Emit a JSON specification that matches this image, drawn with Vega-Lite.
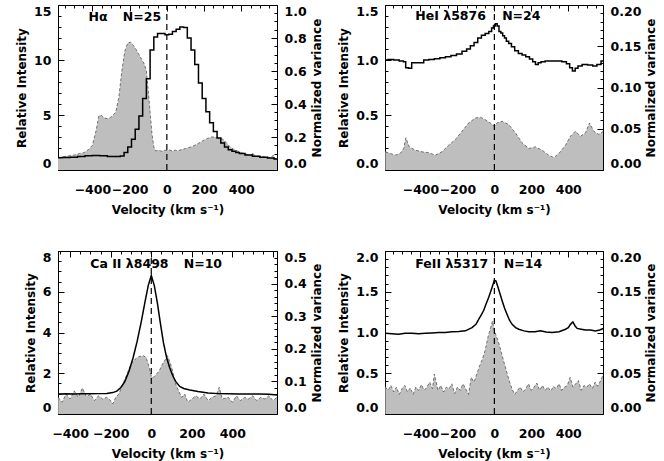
{
  "$schema": "https://vega.github.io/schema/vega-lite/v6.json",
  "padding": {"left": 15, "top": 3, "right": 5, "bottom": 5},
  "columns": 2,
  "spacing": {"row": 33, "column": 14},
  "datasets": {
    "ha_line": [{"v":-585,"y":1.12},{"v":-540,"y":1.13},{"v":-500,"y":1.15},{"v":-460,"y":1.22},{"v":-420,"y":1.3},{"v":-380,"y":1.32},{"v":-340,"y":1.3},{"v":-300,"y":1.23},{"v":-260,"y":1.22},{"v":-240,"y":1.28},{"v":-220,"y":1.6},{"v":-200,"y":2.1},{"v":-180,"y":2.8},{"v":-160,"y":3.7},{"v":-140,"y":4.9},{"v":-120,"y":6.5},{"v":-100,"y":8.3},{"v":-80,"y":10.9},{"v":-60,"y":12.1},{"v":-40,"y":12.4},{"v":-20,"y":12.4},{"v":0,"y":12.3},{"v":20,"y":12.35},{"v":40,"y":12.6},{"v":60,"y":12.8},{"v":80,"y":13.0},{"v":100,"y":12.95},{"v":120,"y":12.0},{"v":140,"y":10.9},{"v":160,"y":9.6},{"v":180,"y":7.9},{"v":200,"y":6.5},{"v":220,"y":5.3},{"v":240,"y":4.3},{"v":260,"y":3.5},{"v":280,"y":2.9},{"v":300,"y":2.45},{"v":320,"y":2.08},{"v":340,"y":1.85},{"v":360,"y":1.7},{"v":380,"y":1.6},{"v":400,"y":1.5},{"v":440,"y":1.36},{"v":480,"y":1.25},{"v":520,"y":1.17},{"v":560,"y":1.08},{"v":592,"y":1.0}],
    "ha_var": [{"v":-585,"y":0.075},{"v":-560,"y":0.08},{"v":-530,"y":0.085},{"v":-500,"y":0.09},{"v":-470,"y":0.1},{"v":-445,"y":0.105},{"v":-420,"y":0.125},{"v":-400,"y":0.15},{"v":-380,"y":0.24},{"v":-365,"y":0.33},{"v":-350,"y":0.33},{"v":-335,"y":0.315},{"v":-315,"y":0.31},{"v":-295,"y":0.325},{"v":-275,"y":0.35},{"v":-258,"y":0.44},{"v":-242,"y":0.6},{"v":-226,"y":0.72},{"v":-210,"y":0.77},{"v":-195,"y":0.775},{"v":-180,"y":0.755},{"v":-165,"y":0.73},{"v":-150,"y":0.7},{"v":-135,"y":0.67},{"v":-120,"y":0.64},{"v":-110,"y":0.6},{"v":-100,"y":0.48},{"v":-90,"y":0.35},{"v":-80,"y":0.22},{"v":-70,"y":0.14},{"v":-60,"y":0.115},{"v":-45,"y":0.12},{"v":-30,"y":0.114},{"v":-15,"y":0.12},{"v":0,"y":0.118},{"v":15,"y":0.121},{"v":30,"y":0.115},{"v":45,"y":0.12},{"v":60,"y":0.117},{"v":80,"y":0.124},{"v":100,"y":0.13},{"v":130,"y":0.14},{"v":160,"y":0.155},{"v":190,"y":0.175},{"v":215,"y":0.19},{"v":240,"y":0.2},{"v":260,"y":0.2},{"v":280,"y":0.192},{"v":300,"y":0.188},{"v":320,"y":0.165},{"v":340,"y":0.14},{"v":360,"y":0.125},{"v":380,"y":0.115},{"v":400,"y":0.105},{"v":430,"y":0.095},{"v":455,"y":0.09},{"v":462,"y":0.105},{"v":470,"y":0.088},{"v":500,"y":0.082},{"v":530,"y":0.08},{"v":560,"y":0.075},{"v":572,"y":0.09},{"v":580,"y":0.072},{"v":592,"y":0.065}],
    "ha_t1": [{"v":-421,"y":13.9,"t":"Hα"}],
    "ha_t2": [{"v":-237,"y":0.927,"t":"N=25"}],
    "ha_rule": [{"v":0,"y":0,"y2":15}],
    "he_line": [{"v":-590,"y":1.0},{"v":-560,"y":1.005},{"v":-530,"y":1.0},{"v":-500,"y":0.99},{"v":-485,"y":0.985},{"v":-475,"y":0.93},{"v":-455,"y":0.925},{"v":-440,"y":0.975},{"v":-420,"y":0.975},{"v":-395,"y":0.975},{"v":-370,"y":1.0},{"v":-340,"y":1.005},{"v":-310,"y":1.012},{"v":-280,"y":1.02},{"v":-250,"y":1.03},{"v":-220,"y":1.04},{"v":-190,"y":1.055},{"v":-160,"y":1.08},{"v":-140,"y":1.1},{"v":-120,"y":1.13},{"v":-100,"y":1.16},{"v":-80,"y":1.2},{"v":-60,"y":1.225},{"v":-40,"y":1.24},{"v":-20,"y":1.26},{"v":-10,"y":1.29},{"v":0,"y":1.31},{"v":10,"y":1.33},{"v":20,"y":1.31},{"v":30,"y":1.26},{"v":40,"y":1.245},{"v":50,"y":1.22},{"v":60,"y":1.2},{"v":70,"y":1.17},{"v":85,"y":1.15},{"v":100,"y":1.12},{"v":120,"y":1.085},{"v":140,"y":1.06},{"v":160,"y":1.045},{"v":180,"y":1.03},{"v":200,"y":1.01},{"v":215,"y":0.985},{"v":230,"y":0.96},{"v":245,"y":0.975},{"v":260,"y":0.985},{"v":290,"y":0.99},{"v":320,"y":0.99},{"v":350,"y":0.99},{"v":380,"y":0.985},{"v":400,"y":0.965},{"v":415,"y":0.93},{"v":430,"y":0.9},{"v":445,"y":0.925},{"v":460,"y":0.945},{"v":490,"y":0.96},{"v":520,"y":0.955},{"v":545,"y":0.945},{"v":565,"y":0.96},{"v":590,"y":0.99}],
    "he_var": [{"v":-590,"y":0.022},{"v":-564,"y":0.02},{"v":-537,"y":0.018},{"v":-510,"y":0.02},{"v":-491,"y":0.026},{"v":-479,"y":0.039},{"v":-461,"y":0.028},{"v":-428,"y":0.024},{"v":-392,"y":0.022},{"v":-356,"y":0.021},{"v":-320,"y":0.018},{"v":-284,"y":0.022},{"v":-248,"y":0.03},{"v":-211,"y":0.037},{"v":-175,"y":0.047},{"v":-139,"y":0.057},{"v":-103,"y":0.063},{"v":-76,"y":0.064},{"v":-49,"y":0.061},{"v":-22,"y":0.057},{"v":0,"y":0.053},{"v":14,"y":0.057},{"v":42,"y":0.059},{"v":78,"y":0.055},{"v":114,"y":0.045},{"v":150,"y":0.033},{"v":186,"y":0.026},{"v":222,"y":0.028},{"v":258,"y":0.024},{"v":294,"y":0.018},{"v":322,"y":0.015},{"v":349,"y":0.02},{"v":385,"y":0.03},{"v":412,"y":0.041},{"v":439,"y":0.047},{"v":466,"y":0.041},{"v":493,"y":0.045},{"v":515,"y":0.057},{"v":538,"y":0.047},{"v":565,"y":0.043},{"v":590,"y":0.047}],
    "he_t1": [{"v":-428,"y":1.397,"t":"HeI λ5876"}],
    "he_t2": [{"v":42,"y":0.1863,"t":"N=24"}],
    "he_rule": [{"v":0,"y":0,"y2":1.5}],
    "ca_line": [{"v":-459,"y":0.98},{"v":-420,"y":0.99},{"v":-380,"y":0.98},{"v":-340,"y":0.99},{"v":-300,"y":0.99},{"v":-260,"y":1.0},{"v":-220,"y":1.01},{"v":-190,"y":1.05},{"v":-170,"y":1.12},{"v":-150,"y":1.3},{"v":-130,"y":1.6},{"v":-110,"y":2.1},{"v":-90,"y":2.75},{"v":-70,"y":3.55},{"v":-50,"y":4.5},{"v":-30,"y":5.55},{"v":-15,"y":6.3},{"v":0,"y":6.8},{"v":15,"y":6.3},{"v":30,"y":5.45},{"v":45,"y":4.45},{"v":60,"y":3.5},{"v":75,"y":2.8},{"v":90,"y":2.3},{"v":105,"y":1.9},{"v":120,"y":1.6},{"v":140,"y":1.35},{"v":160,"y":1.25},{"v":190,"y":1.18},{"v":230,"y":1.1},{"v":280,"y":1.03},{"v":330,"y":1.0},{"v":380,"y":0.99},{"v":430,"y":0.98},{"v":480,"y":0.98},{"v":530,"y":0.98},{"v":580,"y":0.97},{"v":620,"y":0.93}],
    "ca_var": [{"v":-459,"y":0.051},{"v":-440,"y":0.036},{"v":-420,"y":0.061},{"v":-400,"y":0.046},{"v":-380,"y":0.071},{"v":-360,"y":0.051},{"v":-340,"y":0.08},{"v":-320,"y":0.053},{"v":-300,"y":0.061},{"v":-280,"y":0.041},{"v":-260,"y":0.056},{"v":-240,"y":0.046},{"v":-220,"y":0.051},{"v":-200,"y":0.041},{"v":-190,"y":0.031},{"v":-175,"y":0.051},{"v":-160,"y":0.061},{"v":-140,"y":0.092},{"v":-120,"y":0.122},{"v":-100,"y":0.153},{"v":-80,"y":0.168},{"v":-60,"y":0.176},{"v":-40,"y":0.179},{"v":-25,"y":0.173},{"v":-10,"y":0.143},{"v":0,"y":0.117},{"v":10,"y":0.112},{"v":25,"y":0.122},{"v":40,"y":0.133},{"v":55,"y":0.153},{"v":70,"y":0.168},{"v":80,"y":0.179},{"v":90,"y":0.163},{"v":105,"y":0.133},{"v":120,"y":0.092},{"v":135,"y":0.071},{"v":150,"y":0.051},{"v":165,"y":0.061},{"v":180,"y":0.036},{"v":200,"y":0.046},{"v":220,"y":0.056},{"v":240,"y":0.046},{"v":260,"y":0.061},{"v":280,"y":0.041},{"v":300,"y":0.051},{"v":320,"y":0.056},{"v":335,"y":0.082},{"v":350,"y":0.046},{"v":380,"y":0.051},{"v":400,"y":0.036},{"v":420,"y":0.056},{"v":440,"y":0.041},{"v":460,"y":0.051},{"v":480,"y":0.046},{"v":500,"y":0.056},{"v":520,"y":0.041},{"v":540,"y":0.051},{"v":560,"y":0.046},{"v":580,"y":0.056},{"v":600,"y":0.041},{"v":620,"y":0.051}],
    "ca_t1": [{"v":-301,"y":7.35,"t":"Ca II λ8498"}],
    "ca_t2": [{"v":160,"y":0.459,"t":"N=10"}],
    "ca_rule": [{"v":0,"y":0,"y2":8}],
    "fe_line": [{"v":-590,"y":0.99},{"v":-555,"y":0.985},{"v":-519,"y":0.98},{"v":-483,"y":0.99},{"v":-446,"y":0.99},{"v":-410,"y":0.985},{"v":-374,"y":0.99},{"v":-338,"y":0.995},{"v":-302,"y":1.0},{"v":-266,"y":1.0},{"v":-229,"y":1.01},{"v":-193,"y":1.012},{"v":-157,"y":1.02},{"v":-121,"y":1.06},{"v":-100,"y":1.1},{"v":-85,"y":1.16},{"v":-70,"y":1.22},{"v":-58,"y":1.27},{"v":-45,"y":1.35},{"v":-31,"y":1.43},{"v":-13,"y":1.55},{"v":0,"y":1.64},{"v":9,"y":1.63},{"v":23,"y":1.53},{"v":42,"y":1.39},{"v":55,"y":1.3},{"v":69,"y":1.22},{"v":82,"y":1.15},{"v":96,"y":1.1},{"v":115,"y":1.06},{"v":132,"y":1.04},{"v":160,"y":1.02},{"v":186,"y":1.01},{"v":220,"y":1.01},{"v":249,"y":1.02},{"v":280,"y":1.005},{"v":313,"y":1.0},{"v":350,"y":1.01},{"v":385,"y":1.04},{"v":400,"y":1.06},{"v":412,"y":1.1},{"v":425,"y":1.13},{"v":437,"y":1.08},{"v":448,"y":1.05},{"v":470,"y":1.04},{"v":493,"y":1.03},{"v":520,"y":1.03},{"v":547,"y":1.02},{"v":570,"y":1.03},{"v":590,"y":1.05}],
    "fe_var": [{"v":-590,"y":0.033},{"v":-575,"y":0.029},{"v":-560,"y":0.035},{"v":-545,"y":0.027},{"v":-530,"y":0.033},{"v":-515,"y":0.024},{"v":-500,"y":0.031},{"v":-485,"y":0.035},{"v":-470,"y":0.027},{"v":-455,"y":0.032},{"v":-440,"y":0.024},{"v":-425,"y":0.033},{"v":-410,"y":0.029},{"v":-395,"y":0.036},{"v":-380,"y":0.029},{"v":-365,"y":0.033},{"v":-350,"y":0.039},{"v":-335,"y":0.031},{"v":-325,"y":0.049},{"v":-305,"y":0.029},{"v":-290,"y":0.035},{"v":-275,"y":0.027},{"v":-260,"y":0.033},{"v":-245,"y":0.031},{"v":-230,"y":0.037},{"v":-215,"y":0.025},{"v":-200,"y":0.033},{"v":-185,"y":0.029},{"v":-170,"y":0.037},{"v":-155,"y":0.031},{"v":-140,"y":0.024},{"v":-125,"y":0.045},{"v":-110,"y":0.039},{"v":-95,"y":0.049},{"v":-80,"y":0.059},{"v":-65,"y":0.067},{"v":-50,"y":0.078},{"v":-35,"y":0.094},{"v":-20,"y":0.106},{"v":-10,"y":0.114},{"v":0,"y":0.102},{"v":10,"y":0.096},{"v":20,"y":0.09},{"v":35,"y":0.078},{"v":50,"y":0.065},{"v":65,"y":0.053},{"v":80,"y":0.041},{"v":95,"y":0.031},{"v":110,"y":0.024},{"v":125,"y":0.029},{"v":140,"y":0.033},{"v":155,"y":0.027},{"v":170,"y":0.031},{"v":185,"y":0.037},{"v":200,"y":0.029},{"v":215,"y":0.033},{"v":230,"y":0.038},{"v":245,"y":0.029},{"v":260,"y":0.035},{"v":275,"y":0.029},{"v":290,"y":0.033},{"v":305,"y":0.028},{"v":320,"y":0.034},{"v":335,"y":0.031},{"v":350,"y":0.037},{"v":365,"y":0.029},{"v":380,"y":0.033},{"v":395,"y":0.035},{"v":410,"y":0.045},{"v":425,"y":0.033},{"v":440,"y":0.037},{"v":455,"y":0.041},{"v":470,"y":0.029},{"v":485,"y":0.035},{"v":500,"y":0.033},{"v":515,"y":0.037},{"v":530,"y":0.031},{"v":545,"y":0.039},{"v":560,"y":0.034},{"v":575,"y":0.041},{"v":590,"y":0.049}],
    "fe_t1": [{"v":-428,"y":1.84,"t":"FeII λ5317"}],
    "fe_t2": [{"v":51,"y":0.184,"t":"N=14"}],
    "fe_rule": [{"v":0,"y":0,"y2":2}]
  },
  "concat": [
    {
      "width": 219, "height": 165,
      "resolve": {"scale": {"y": "independent"}, "axis": {"x": "independent", "y": "independent"}},
      "layer": [
        {"data": {"name": "ha_t1"}, "mark": {"type": "text", "align": "left", "baseline": "middle"},
         "encoding": {
           "x": {"field": "v", "type": "quantitative", "scale": {"domain": [-585, 592], "nice": false, "zero": false},
                 "axis": {"orient": "bottom", "title": null, "labels": false, "tickSize": -3, "maxExtent": 0, "minExtent": 0, "values": [-550,-500,-450,-400,-350,-300,-250,-200,-150,-100,-50,0,50,100,150,200,250,300,350,400,450,500,550]}},
           "y": {"field": "y", "type": "quantitative", "scale": {"domain": [0, 15], "nice": false},
                 "axis": {"orient": "left", "title": null, "labels": false, "tickSize": -3, "maxExtent": 0, "minExtent": 0, "values": [0,1,2,3,4,5,6,7,8,9,10,11,12,13,14,15]}},
           "text": {"field": "t"}}},
        {"data": {"name": "ha_t2"}, "mark": {"type": "text", "align": "left", "baseline": "middle"},
         "encoding": {
           "x": {"field": "v", "type": "quantitative", "scale": {"domain": [-585, 592], "nice": false, "zero": false},
                 "axis": {"orient": "top", "title": null, "labels": false, "tickSize": -3, "maxExtent": 0, "minExtent": 0, "values": [-550,-500,-450,-400,-350,-300,-250,-200,-150,-100,-50,0,50,100,150,200,250,300,350,400,450,500,550]}},
           "y": {"field": "y", "type": "quantitative", "scale": {"domain": [0, 1], "nice": false},
                 "axis": {"orient": "right", "title": null, "labels": false, "tickSize": -3, "maxExtent": 0, "minExtent": 0, "values": [0,0.05,0.1,0.15,0.2,0.25,0.3,0.35,0.4,0.45,0.5,0.55,0.6,0.65,0.7,0.75,0.8,0.85,0.9,0.95,1.0]}},
           "text": {"field": "t"}}},
        {
          "data": {"name": "ha_var"},
          "encoding": {
            "x": {"field": "v", "type": "quantitative", "scale": {"domain": [-585, 592], "nice": false, "zero": false},
                  "axis": {"orient": "bottom", "title": "Velocity (km s⁻¹)", "values": [-400,-200,0,200,400]}},
            "y": {"field": "y", "type": "quantitative", "scale": {"domain": [0, 1], "nice": false},
                  "axis": {"orient": "right", "title": "Normalized variance", "titleAngle": 270, "titleBaseline": "top", "format": ".1f", "labelFlush": true, "values": [0,0.2,0.4,0.6,0.8,1.0]}}
          },
          "layer": [
            {"mark": {"type": "area", "color": "#bebebe", "clip": true}},
            {"mark": {"type": "line", "color": "#555555", "strokeWidth": 0.8, "strokeDash": [3, 2], "clip": true}}
          ]
        },
        {
          "encoding": {
            "x": {"field": "v", "type": "quantitative", "scale": {"domain": [-585, 592], "nice": false, "zero": false},
                  "axis": {"orient": "top", "title": null, "labels": false, "maxExtent": 0, "minExtent": 0, "values": [-400,-200,0,200,400]}},
            "y": {"field": "y", "type": "quantitative", "scale": {"domain": [0, 15], "nice": false},
                  "axis": {"orient": "left", "title": "Relative Intensity", "labelFlush": true, "values": [0,5,10,15]}}
          },
          "layer": [
            {"data": {"name": "ha_line"}, "mark": {"type": "line", "interpolate": "step", "color": "black", "strokeWidth": 1.5, "clip": true}},
            {"data": {"name": "ha_rule"}, "mark": {"type": "rule", "color": "black", "strokeDash": [6, 4], "strokeWidth": 1.2}, "encoding": {"y2": {"field": "y2"}}}
          ]
        }
      ]
    },
    {
      "width": 218, "height": 165,
      "resolve": {"scale": {"y": "independent"}, "axis": {"x": "independent", "y": "independent"}},
      "layer": [
        {"data": {"name": "he_t1"}, "mark": {"type": "text", "align": "left", "baseline": "middle"},
         "encoding": {
           "x": {"field": "v", "type": "quantitative", "scale": {"domain": [-592, 588], "nice": false, "zero": false},
                 "axis": {"orient": "bottom", "title": null, "labels": false, "tickSize": -3, "maxExtent": 0, "minExtent": 0, "values": [-550,-500,-450,-400,-350,-300,-250,-200,-150,-100,-50,0,50,100,150,200,250,300,350,400,450,500,550]}},
           "y": {"field": "y", "type": "quantitative", "scale": {"domain": [0, 1.5], "nice": false},
                 "axis": {"orient": "left", "title": null, "labels": false, "tickSize": -3, "maxExtent": 0, "minExtent": 0, "values": [0,0.1,0.2,0.3,0.4,0.5,0.6,0.7,0.8,0.9,1.0,1.1,1.2,1.3,1.4,1.5]}},
           "text": {"field": "t"}}},
        {"data": {"name": "he_t2"}, "mark": {"type": "text", "align": "left", "baseline": "middle"},
         "encoding": {
           "x": {"field": "v", "type": "quantitative", "scale": {"domain": [-592, 588], "nice": false, "zero": false},
                 "axis": {"orient": "top", "title": null, "labels": false, "tickSize": -3, "maxExtent": 0, "minExtent": 0, "values": [-550,-500,-450,-400,-350,-300,-250,-200,-150,-100,-50,0,50,100,150,200,250,300,350,400,450,500,550]}},
           "y": {"field": "y", "type": "quantitative", "scale": {"domain": [0, 0.2], "nice": false},
                 "axis": {"orient": "right", "title": null, "labels": false, "tickSize": -3, "maxExtent": 0, "minExtent": 0, "values": [0,0.01,0.02,0.03,0.04,0.05,0.06,0.07,0.08,0.09,0.1,0.11,0.12,0.13,0.14,0.15,0.16,0.17,0.18,0.19,0.2]}},
           "text": {"field": "t"}}},
        {
          "data": {"name": "he_var"},
          "encoding": {
            "x": {"field": "v", "type": "quantitative", "scale": {"domain": [-592, 588], "nice": false, "zero": false},
                  "axis": {"orient": "bottom", "title": "Velocity (km s⁻¹)", "values": [-400,-200,0,200,400]}},
            "y": {"field": "y", "type": "quantitative", "scale": {"domain": [0, 0.2], "nice": false},
                  "axis": {"orient": "right", "title": "Normalized variance", "titleAngle": 270, "titleBaseline": "top", "format": ".2f", "labelFlush": true, "values": [0,0.05,0.1,0.15,0.2]}}
          },
          "layer": [
            {"mark": {"type": "area", "color": "#bebebe", "clip": true}},
            {"mark": {"type": "line", "color": "#555555", "strokeWidth": 0.8, "strokeDash": [3, 2], "clip": true}}
          ]
        },
        {
          "encoding": {
            "x": {"field": "v", "type": "quantitative", "scale": {"domain": [-592, 588], "nice": false, "zero": false},
                  "axis": {"orient": "top", "title": null, "labels": false, "maxExtent": 0, "minExtent": 0, "values": [-400,-200,0,200,400]}},
            "y": {"field": "y", "type": "quantitative", "scale": {"domain": [0, 1.5], "nice": false},
                  "axis": {"orient": "left", "title": "Relative Intensity", "format": ".1f", "labelFlush": true, "values": [0,0.5,1.0,1.5]}}
          },
          "layer": [
            {"data": {"name": "he_line"}, "mark": {"type": "line", "interpolate": "step", "color": "black", "strokeWidth": 1.5, "clip": true}},
            {"data": {"name": "he_rule"}, "mark": {"type": "rule", "color": "black", "strokeDash": [6, 4], "strokeWidth": 1.2}, "encoding": {"y2": {"field": "y2"}}}
          ]
        }
      ]
    },
    {
      "width": 219, "height": 163,
      "resolve": {"scale": {"y": "independent"}, "axis": {"x": "independent", "y": "independent"}},
      "layer": [
        {"data": {"name": "ca_t1"}, "mark": {"type": "text", "align": "left", "baseline": "middle"},
         "encoding": {
           "x": {"field": "v", "type": "quantitative", "scale": {"domain": [-460, 620], "nice": false, "zero": false},
                 "axis": {"orient": "bottom", "title": null, "labels": false, "tickSize": -3, "maxExtent": 0, "minExtent": 0, "values": [-450,-400,-350,-300,-250,-200,-150,-100,-50,0,50,100,150,200,250,300,350,400,450,500,550,600]}},
           "y": {"field": "y", "type": "quantitative", "scale": {"domain": [0, 8], "nice": false},
                 "axis": {"orient": "left", "title": null, "labels": false, "tickSize": -3, "maxExtent": 0, "minExtent": 0, "values": [0,0.5,1,1.5,2,2.5,3,3.5,4,4.5,5,5.5,6,6.5,7,7.5,8]}},
           "text": {"field": "t"}}},
        {"data": {"name": "ca_t2"}, "mark": {"type": "text", "align": "left", "baseline": "middle"},
         "encoding": {
           "x": {"field": "v", "type": "quantitative", "scale": {"domain": [-460, 620], "nice": false, "zero": false},
                 "axis": {"orient": "top", "title": null, "labels": false, "tickSize": -3, "maxExtent": 0, "minExtent": 0, "values": [-450,-400,-350,-300,-250,-200,-150,-100,-50,0,50,100,150,200,250,300,350,400,450,500,550,600]}},
           "y": {"field": "y", "type": "quantitative", "scale": {"domain": [0, 0.5], "nice": false},
                 "axis": {"orient": "right", "title": null, "labels": false, "tickSize": -3, "maxExtent": 0, "minExtent": 0, "values": [0,0.02,0.04,0.06,0.08,0.1,0.12,0.14,0.16,0.18,0.2,0.22,0.24,0.26,0.28,0.3,0.32,0.34,0.36,0.38,0.4,0.42,0.44,0.46,0.48,0.5]}},
           "text": {"field": "t"}}},
        {
          "data": {"name": "ca_var"},
          "encoding": {
            "x": {"field": "v", "type": "quantitative", "scale": {"domain": [-460, 620], "nice": false, "zero": false},
                  "axis": {"orient": "bottom", "title": "Velocity (km s⁻¹)", "values": [-400,-200,0,200,400]}},
            "y": {"field": "y", "type": "quantitative", "scale": {"domain": [0, 0.5], "nice": false},
                  "axis": {"orient": "right", "title": "Normalized variance", "titleAngle": 270, "titleBaseline": "top", "format": ".1f", "labelFlush": true, "values": [0,0.1,0.2,0.3,0.4,0.5]}}
          },
          "layer": [
            {"mark": {"type": "area", "color": "#bebebe", "clip": true}},
            {"mark": {"type": "line", "color": "#555555", "strokeWidth": 0.8, "strokeDash": [3, 2], "clip": true}}
          ]
        },
        {
          "encoding": {
            "x": {"field": "v", "type": "quantitative", "scale": {"domain": [-460, 620], "nice": false, "zero": false},
                  "axis": {"orient": "top", "title": null, "labels": false, "maxExtent": 0, "minExtent": 0, "values": [-400,-200,0,200,400,600]}},
            "y": {"field": "y", "type": "quantitative", "scale": {"domain": [0, 8], "nice": false},
                  "axis": {"orient": "left", "title": "Relative Intensity", "labelFlush": true, "values": [0,2,4,6,8]}}
          },
          "layer": [
            {"data": {"name": "ca_line"}, "mark": {"type": "line", "color": "black", "strokeWidth": 1.5, "clip": true}},
            {"data": {"name": "ca_rule"}, "mark": {"type": "rule", "color": "black", "strokeDash": [6, 4], "strokeWidth": 1.2}, "encoding": {"y2": {"field": "y2"}}}
          ]
        }
      ]
    },
    {
      "width": 218, "height": 163,
      "resolve": {"scale": {"y": "independent"}, "axis": {"x": "independent", "y": "independent"}},
      "layer": [
        {"data": {"name": "fe_t1"}, "mark": {"type": "text", "align": "left", "baseline": "middle"},
         "encoding": {
           "x": {"field": "v", "type": "quantitative", "scale": {"domain": [-592, 588], "nice": false, "zero": false},
                 "axis": {"orient": "bottom", "title": null, "labels": false, "tickSize": -3, "maxExtent": 0, "minExtent": 0, "values": [-550,-500,-450,-400,-350,-300,-250,-200,-150,-100,-50,0,50,100,150,200,250,300,350,400,450,500,550]}},
           "y": {"field": "y", "type": "quantitative", "scale": {"domain": [0, 2], "nice": false},
                 "axis": {"orient": "left", "title": null, "labels": false, "tickSize": -3, "maxExtent": 0, "minExtent": 0, "values": [0,0.1,0.2,0.3,0.4,0.5,0.6,0.7,0.8,0.9,1.0,1.1,1.2,1.3,1.4,1.5,1.6,1.7,1.8,1.9,2.0]}},
           "text": {"field": "t"}}},
        {"data": {"name": "fe_t2"}, "mark": {"type": "text", "align": "left", "baseline": "middle"},
         "encoding": {
           "x": {"field": "v", "type": "quantitative", "scale": {"domain": [-592, 588], "nice": false, "zero": false},
                 "axis": {"orient": "top", "title": null, "labels": false, "tickSize": -3, "maxExtent": 0, "minExtent": 0, "values": [-550,-500,-450,-400,-350,-300,-250,-200,-150,-100,-50,0,50,100,150,200,250,300,350,400,450,500,550]}},
           "y": {"field": "y", "type": "quantitative", "scale": {"domain": [0, 0.2], "nice": false},
                 "axis": {"orient": "right", "title": null, "labels": false, "tickSize": -3, "maxExtent": 0, "minExtent": 0, "values": [0,0.01,0.02,0.03,0.04,0.05,0.06,0.07,0.08,0.09,0.1,0.11,0.12,0.13,0.14,0.15,0.16,0.17,0.18,0.19,0.2]}},
           "text": {"field": "t"}}},
        {
          "data": {"name": "fe_var"},
          "encoding": {
            "x": {"field": "v", "type": "quantitative", "scale": {"domain": [-592, 588], "nice": false, "zero": false},
                  "axis": {"orient": "bottom", "title": "Velocity (km s⁻¹)", "values": [-400,-200,0,200,400]}},
            "y": {"field": "y", "type": "quantitative", "scale": {"domain": [0, 0.2], "nice": false},
                  "axis": {"orient": "right", "title": "Normalized variance", "titleAngle": 270, "titleBaseline": "top", "format": ".2f", "labelFlush": true, "values": [0,0.05,0.1,0.15,0.2]}}
          },
          "layer": [
            {"mark": {"type": "area", "color": "#bebebe", "clip": true}},
            {"mark": {"type": "line", "color": "#555555", "strokeWidth": 0.8, "strokeDash": [3, 2], "clip": true}}
          ]
        },
        {
          "encoding": {
            "x": {"field": "v", "type": "quantitative", "scale": {"domain": [-592, 588], "nice": false, "zero": false},
                  "axis": {"orient": "top", "title": null, "labels": false, "maxExtent": 0, "minExtent": 0, "values": [-400,-200,0,200,400]}},
            "y": {"field": "y", "type": "quantitative", "scale": {"domain": [0, 2], "nice": false},
                  "axis": {"orient": "left", "title": "Relative Intensity", "format": ".1f", "labelFlush": true, "values": [0,0.5,1.0,1.5,2.0]}}
          },
          "layer": [
            {"data": {"name": "fe_line"}, "mark": {"type": "line", "color": "black", "strokeWidth": 1.5, "clip": true}},
            {"data": {"name": "fe_rule"}, "mark": {"type": "rule", "color": "black", "strokeDash": [6, 4], "strokeWidth": 1.2}, "encoding": {"y2": {"field": "y2"}}}
          ]
        }
      ]
    }
  ],
  "config": {
    "view": {"stroke": "black", "strokeWidth": 1},
    "font": "DejaVu Sans",
    "axis": {"labelFont": "DejaVu Sans", "labelFontSize": 12.5, "labelFontWeight": "bold", "labelColor": "black",
             "titleFont": "DejaVu Sans", "titleFontSize": 12, "titleFontWeight": "bold", "titleColor": "black",
             "tickColor": "black", "tickWidth": 1, "tickSize": -6, "zindex": 1, "domain": false, "grid": false, "labelOverlap": false, "labelPadding": 13, "titlePadding": 5},
    "axisX": {"labelFlush": false, "labelPadding": 19, "titlePadding": 9},
    "text": {"font": "DejaVu Sans", "fontSize": 12.5, "fontWeight": "bold", "color": "black"}
  }
}
